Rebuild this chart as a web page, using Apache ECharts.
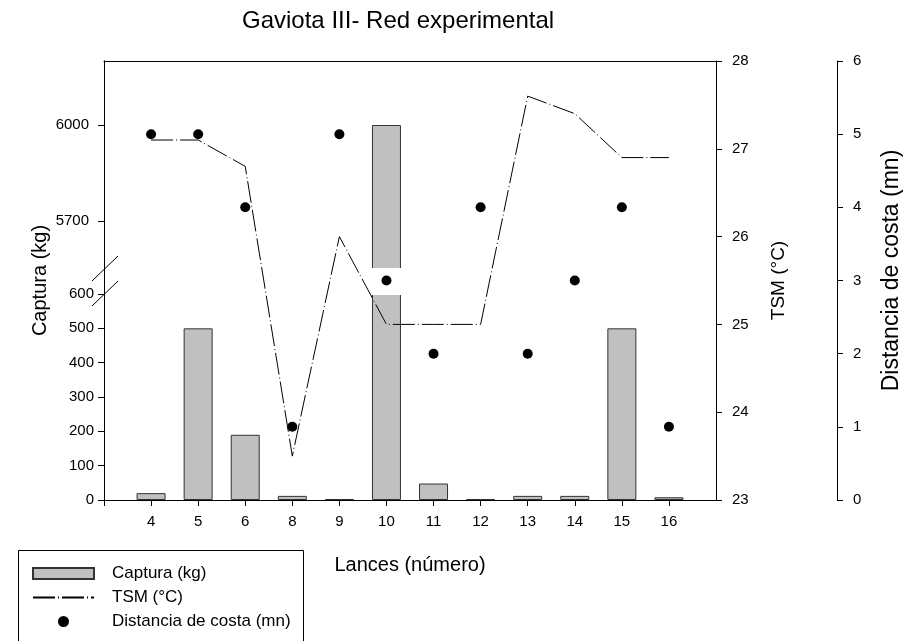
<!DOCTYPE html>
<html><head><meta charset="utf-8">
<script src="https://cdn.jsdelivr.net/npm/echarts@6/dist/echarts.min.js"></script>
<style>html,body{margin:0;padding:0;background:#fff}#c{width:921px;height:641px}</style>
</head><body><div id="c"></div>
<script>
// ---- data ----
const lances = ['4','5','6','8','9','10','11','12','13','14','15','16'];
const captura = [20, 500, 190, 12, 3, 6000, 48, 3, 12, 12, 500, 8];
const tsm = [27.1, 27.1, 26.8, 23.5, 26.0, 25.0, 25.0, 25.0, 27.6, 27.4, 26.9, 26.9];
const distancia = [5, 5, 4, 1, 5, 3, 2, 4, 2, 3, 4, 1];
const upperTicks = [5700, 6000];
const xCats = [' '].concat(lances, ['  ']);

const FONT = 'Liberation Sans, Arial, sans-serif';
const BLACK = '#000';
const chart = echarts.init(document.getElementById('c'), null, {renderer: 'canvas'});

const barPairs = lances.map((l, i) => [l, captura[i]]);
const tsmPairs = lances.map((l, i) => [l, tsm[i]]);
const distPairs = lances.map((l, i) => [l, distancia[i]]);

const axLine = {show: true, onZero: false, lineStyle: {color: BLACK, width: 1}};
const lbl = {color: BLACK, fontSize: 15, fontFamily: FONT, formatter: (v) => String(v)};

const option = {
  animation: false,
  backgroundColor: '#fff',
  textStyle: {fontFamily: FONT, color: BLACK},
  title: {
    text: 'Gaviota III- Red experimental',
    left: 242, top: 9, padding: 0,
    textStyle: {fontSize: 24, fontWeight: 'normal', color: BLACK, fontFamily: FONT}
  },
  legend: {
    orient: 'vertical', left: 32, top: 565, padding: 0,
    itemWidth: 61, itemHeight: 11, itemGap: 7,
    data: [
      {name: 'Captura (kg)', icon: 'rect'},
      {name: 'TSM (°C)', itemStyle: {color: 'rgba(0,0,0,0)', borderColor: 'rgba(0,0,0,0)', opacity: 0}},
      {name: 'Distancia de costa (mn)', icon: 'circle'}
    ],
    textStyle: {fontSize: 17, color: BLACK, fontFamily: FONT, padding: [0, 0, 0, 13]}
  },
  grid: [
    {left: 104, right: 205, top: 61, height: 208},
    {left: 104, right: 205, top: 294, height: 206},
    {left: 104, right: 205, top: 61, height: 439}
  ],
  xAxis: [
    {gridIndex: 0, type: 'category', data: xCats, boundaryGap: false, position: 'top',
     axisLine: axLine, axisTick: {show: false}, axisLabel: {show: false}, splitLine: {show: false}},
    {gridIndex: 1, type: 'category', data: xCats, boundaryGap: false, show: false},
    {gridIndex: 2, type: 'category', data: xCats, boundaryGap: false, position: 'bottom',
     axisLine: axLine,
     axisTick: {show: true, length: 6, interval: (i) => i < xCats.length - 1, lineStyle: {color: BLACK}},
     axisLabel: {interval: 0, margin: 14, color: BLACK, fontSize: 15, fontFamily: FONT},
     splitLine: {show: false},
     name: 'Lances (número)', nameLocation: 'middle', nameGap: 55,
     nameTextStyle: {fontSize: 20, color: BLACK, fontFamily: FONT}}
  ],
  yAxis: [
    {gridIndex: 0, type: 'value', min: 5550, max: 6200, position: 'left',
     axisLine: axLine,
     axisTick: {show: true, length: 6, customValues: upperTicks, lineStyle: {color: BLACK}},
     axisLabel: Object.assign({customValues: upperTicks, margin: 15}, lbl),
     splitLine: {show: false}},
    {gridIndex: 1, type: 'value', min: 0, max: 600, interval: 100, position: 'left',
     axisLine: axLine,
     axisTick: {show: true, length: 6, lineStyle: {color: BLACK}},
     axisLabel: Object.assign({margin: 10}, lbl),
     splitLine: {show: false}},
    {gridIndex: 2, type: 'value', min: 23, max: 28, interval: 1, position: 'right',
     axisLine: axLine,
     axisTick: {show: true, length: 6, lineStyle: {color: BLACK}},
     axisLabel: Object.assign({margin: 16}, lbl),
     splitLine: {show: false},
     name: 'TSM (°C)', nameLocation: 'middle', nameRotate: 90, nameGap: 53,
     nameTextStyle: {fontSize: 19, color: BLACK, fontFamily: FONT}},
    {gridIndex: 2, type: 'value', min: 0, max: 6, interval: 1, position: 'right', offset: 121,
     axisLine: axLine,
     axisTick: {show: true, length: 6, lineStyle: {color: BLACK}},
     axisLabel: Object.assign({margin: 16}, lbl),
     splitLine: {show: false},
     name: 'Distancia de costa (mn)', nameLocation: 'middle', nameRotate: 90, nameGap: 43,
     nameTextStyle: {fontSize: 23, color: BLACK, fontFamily: FONT, padding: [0, 0, 0, 20]}},
    {gridIndex: 2, type: 'value', min: 0, max: 1, position: 'left',
     axisLine: axLine, axisTick: {show: false}, axisLabel: {show: false}, splitLine: {show: false},
     name: 'Captura (kg)', nameLocation: 'middle', nameRotate: 90, nameGap: 54,
     nameTextStyle: {fontSize: 20, color: BLACK, fontFamily: FONT}}
  ],
  series: [
    {type: 'bar', name: 'Captura (kg)', xAxisIndex: 0, yAxisIndex: 0, data: barPairs, z: 1,
     barWidth: 29, clip: true, itemStyle: {color: '#c0c0c0', borderColor: '#333', borderWidth: 1}},
    {type: 'bar', name: 'Captura (kg)', xAxisIndex: 1, yAxisIndex: 1, data: barPairs, z: 1,
     barWidth: 29, clip: true, itemStyle: {color: '#c0c0c0', borderColor: '#333', borderWidth: 1}},
    {type: 'line', name: 'TSM (°C)', xAxisIndex: 2, yAxisIndex: 2, data: tsmPairs,
     symbol: 'none', z: 3,
     lineStyle: {color: BLACK, width: 1, type: [22, 3, 1, 3]}, itemStyle: {color: BLACK}},
    {type: 'scatter', name: 'Distancia de costa (mn)', xAxisIndex: 2, yAxisIndex: 3, data: distPairs,
     symbol: 'circle', symbolSize: 10, z: 4, itemStyle: {color: BLACK, opacity: 1}}
  ],
  graphic: [
    {type: 'rect', silent: true, z: 2, shape: {x: 105, y: 268, width: 610, height: 27},
     style: {fill: '#fff', stroke: null}},
    {type: 'rect', silent: true, z: 5, shape: {x: 18.5, y: 550.5, width: 285, height: 120},
     style: {fill: 'none', stroke: BLACK, lineWidth: 1}},
    {type: 'line', silent: true, z: 5, shape: {x1: 92, y1: 281, x2: 118, y2: 256},
     style: {stroke: BLACK, lineWidth: 1}},
    {type: 'line', silent: true, z: 5, shape: {x1: 92, y1: 306, x2: 118, y2: 281},
     style: {stroke: BLACK, lineWidth: 1}}
  ]
};
chart.setOption(option);
</script>
</body></html>
